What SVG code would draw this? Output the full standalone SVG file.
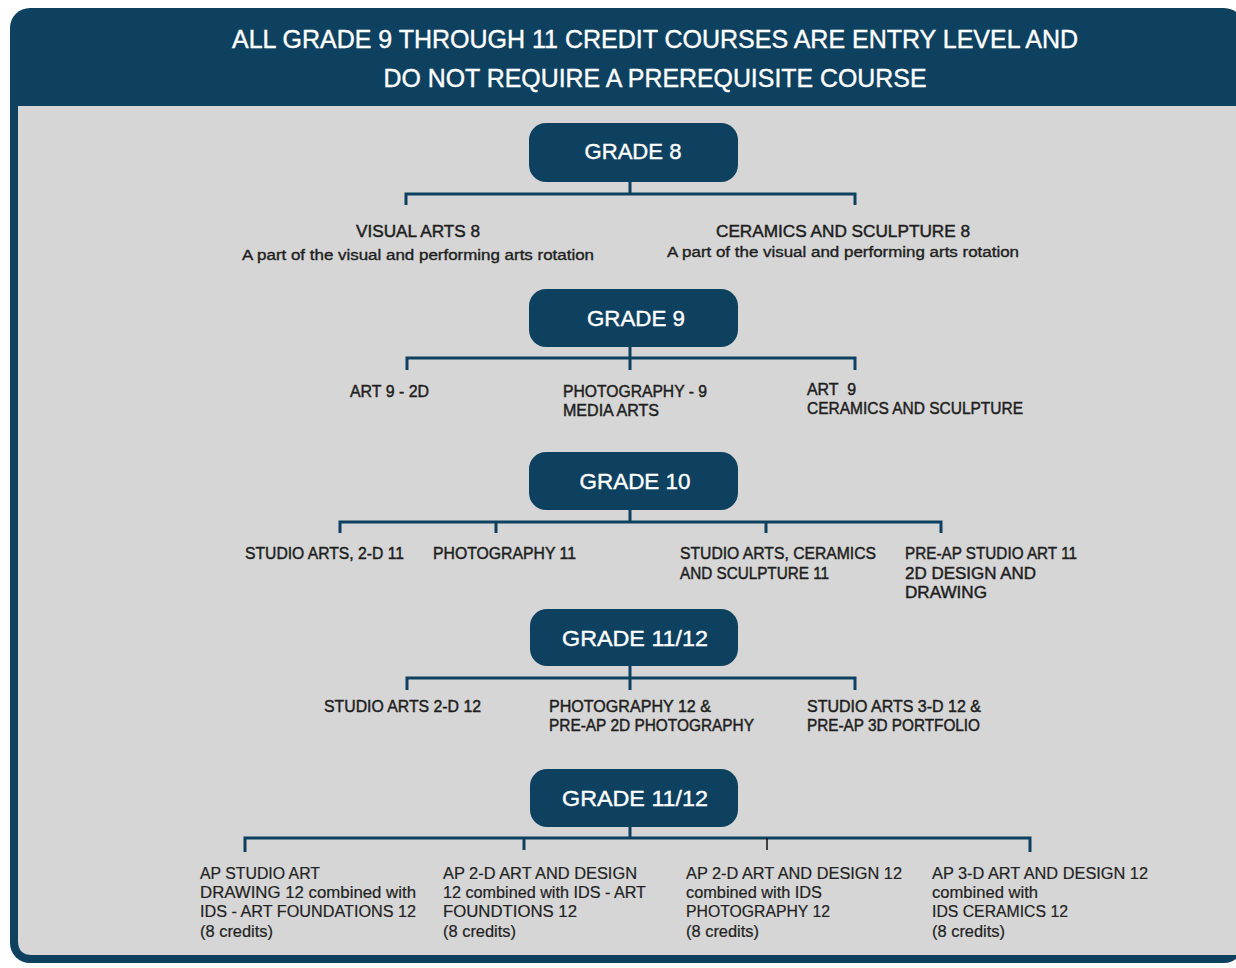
<svg xmlns="http://www.w3.org/2000/svg" width="1236" height="968" viewBox="0 0 1236 968">
<style>
.hdr{font-family:"Liberation Sans",Arial,sans-serif;font-size:25px;fill:#ffffff;stroke:#ffffff;stroke-width:0.4;text-anchor:middle}
.gb{fill:#0e4160}
.gt{font-family:"Liberation Sans",Arial,sans-serif;font-size:22px;fill:#ffffff;stroke:#ffffff;stroke-width:0.4;text-anchor:middle}
.lb{font-family:"Liberation Sans",Arial,sans-serif;font-size:16px;fill:#1e1e1e;stroke:#1e1e1e;stroke-width:0.45}
.lbc{font-family:"Liberation Sans",Arial,sans-serif;font-size:16px;fill:#1e1e1e;stroke:#1e1e1e;stroke-width:0.45;text-anchor:middle}
.sm{font-family:"Liberation Sans",Arial,sans-serif;font-size:14px;fill:#1e1e1e;stroke:#1e1e1e;stroke-width:0.35;text-anchor:middle}
.bt{font-family:"Liberation Sans",Arial,sans-serif;font-size:16px;fill:#222222;stroke:#222222;stroke-width:0.2}
.cn{fill:none;stroke:#0e4160;stroke-width:3}
</style>
<rect x="0" y="0" width="1236" height="968" fill="#ffffff"/>
<g id="frame">
<rect x="10" y="8" width="1234" height="955" rx="20" fill="#0e4160"/>
<path d="M18,106 H1244 V955 H32 Q18,955 18,941 Z" fill="#d6d6d6"/>
<text class="hdr" x="655" y="48" textLength="846" lengthAdjust="spacingAndGlyphs">ALL GRADE 9 THROUGH 11 CREDIT COURSES ARE ENTRY LEVEL AND</text>
<text class="hdr" x="655" y="87" textLength="543" lengthAdjust="spacingAndGlyphs">DO NOT REQUIRE A PREREQUISITE COURSE</text>
</g>
<g id="connectors">
<path class="cn" d="M630,182 V194 M406,205 V194 H855 V205"/>
<path class="cn" d="M630,347 V370 M407,370 V358 H855 V370"/>
<path class="cn" d="M630,510 V522 M340,533 V522 H941 V533 M496,522 V533 M766,522 V533"/>
<path class="cn" d="M630,666 V690 M407,690 V678 H855 V690"/>
<path class="cn" d="M630,827 V838 M245,852 V838 H1030 V852 M524,838 V850"/>
<path d="M767,838 V850" stroke="#111" stroke-width="1.5" fill="none"/>
</g>
<g id="grade8">
<rect class="gb" x="529" y="123" width="209" height="59" rx="17"/>
<text class="gt" x="633" y="159" textLength="97" lengthAdjust="spacingAndGlyphs">GRADE 8</text>
</g>
<g id="visualarts8">
<text class="lbc" x="418" y="237" textLength="124" lengthAdjust="spacingAndGlyphs">VISUAL ARTS 8</text>
<text class="sm" x="418" y="260" textLength="352" lengthAdjust="spacingAndGlyphs">A part of the visual and performing arts rotation</text>
</g>
<g id="ceramics8">
<text class="lbc" x="843" y="237" textLength="254" lengthAdjust="spacingAndGlyphs">CERAMICS AND SCULPTURE 8</text>
<text class="sm" x="843" y="257" textLength="352" lengthAdjust="spacingAndGlyphs">A part of the visual and performing arts rotation</text>
</g>
<g id="grade9">
<rect class="gb" x="529" y="289" width="209" height="58" rx="17"/>
<text class="gt" x="636" y="326" textLength="98" lengthAdjust="spacingAndGlyphs">GRADE 9</text>
</g>
<g id="art9-2d"><text class="lb" x="350" y="397" textLength="79" lengthAdjust="spacingAndGlyphs">ART 9 - 2D</text></g>
<g id="photo9">
<text class="lb" x="563" y="397" textLength="144" lengthAdjust="spacingAndGlyphs">PHOTOGRAPHY - 9</text>
<text class="lb" x="563" y="416" textLength="96" lengthAdjust="spacingAndGlyphs">MEDIA ARTS</text>
</g>
<g id="art9-ceramics">
<text class="lb" x="807" y="395" textLength="49" lengthAdjust="spacingAndGlyphs" xml:space="preserve">ART  9</text>
<text class="lb" x="807" y="414" textLength="216" lengthAdjust="spacingAndGlyphs">CERAMICS AND SCULPTURE</text>
</g>
<g id="grade10">
<rect class="gb" x="529" y="452" width="209" height="58" rx="17"/>
<text class="gt" x="635" y="489" textLength="111" lengthAdjust="spacingAndGlyphs">GRADE 10</text>
</g>
<g id="studio2d11"><text class="lb" x="245" y="559" textLength="159" lengthAdjust="spacingAndGlyphs">STUDIO ARTS, 2-D 11</text></g>
<g id="photo11"><text class="lb" x="433" y="559" textLength="143" lengthAdjust="spacingAndGlyphs">PHOTOGRAPHY 11</text></g>
<g id="studioceramics11">
<text class="lb" x="680" y="559" textLength="196" lengthAdjust="spacingAndGlyphs">STUDIO ARTS, CERAMICS</text>
<text class="lb" x="680" y="579" textLength="149" lengthAdjust="spacingAndGlyphs">AND SCULPTURE 11</text>
</g>
<g id="preap11">
<text class="lb" x="905" y="559" textLength="172" lengthAdjust="spacingAndGlyphs">PRE-AP STUDIO ART 11</text>
<text class="lb" x="905" y="579" textLength="131" lengthAdjust="spacingAndGlyphs">2D DESIGN AND</text>
<text class="lb" x="905" y="598" textLength="82" lengthAdjust="spacingAndGlyphs">DRAWING</text>
</g>
<g id="grade1112a">
<rect class="gb" x="530" y="609" width="208" height="57" rx="17"/>
<text class="gt" x="635" y="646" textLength="146" lengthAdjust="spacingAndGlyphs">GRADE 11/12</text>
</g>
<g id="studio2d12"><text class="lb" x="324" y="712" textLength="157" lengthAdjust="spacingAndGlyphs">STUDIO ARTS 2-D 12</text></g>
<g id="photo12">
<text class="lb" x="549" y="712" textLength="162" lengthAdjust="spacingAndGlyphs">PHOTOGRAPHY 12 &amp;</text>
<text class="lb" x="549" y="731" textLength="205" lengthAdjust="spacingAndGlyphs">PRE-AP 2D PHOTOGRAPHY</text>
</g>
<g id="studio3d12">
<text class="lb" x="807" y="712" textLength="174" lengthAdjust="spacingAndGlyphs">STUDIO ARTS 3-D 12 &amp;</text>
<text class="lb" x="807" y="731" textLength="173" lengthAdjust="spacingAndGlyphs">PRE-AP 3D PORTFOLIO</text>
</g>
<g id="grade1112b">
<rect class="gb" x="530" y="769" width="208" height="58" rx="17"/>
<text class="gt" x="635" y="806" textLength="146" lengthAdjust="spacingAndGlyphs">GRADE 11/12</text>
</g>
<g id="apdrawing">
<text class="bt" x="200" y="879" textLength="120" lengthAdjust="spacingAndGlyphs">AP STUDIO ART</text>
<text class="bt" x="200" y="898" textLength="216" lengthAdjust="spacingAndGlyphs">DRAWING 12 combined with</text>
<text class="bt" x="200" y="917" textLength="216" lengthAdjust="spacingAndGlyphs">IDS - ART FOUNDATIONS 12</text>
<text class="bt" x="200" y="937" textLength="73" lengthAdjust="spacingAndGlyphs">(8 credits)</text>
</g>
<g id="ap2dfound">
<text class="bt" x="443" y="879" textLength="194" lengthAdjust="spacingAndGlyphs">AP 2-D ART AND DESIGN</text>
<text class="bt" x="443" y="898" textLength="203" lengthAdjust="spacingAndGlyphs">12 combined with IDS - ART</text>
<text class="bt" x="443" y="917" textLength="134" lengthAdjust="spacingAndGlyphs">FOUNDTIONS 12</text>
<text class="bt" x="443" y="937" textLength="73" lengthAdjust="spacingAndGlyphs">(8 credits)</text>
</g>
<g id="ap2dphoto">
<text class="bt" x="686" y="879" textLength="216" lengthAdjust="spacingAndGlyphs">AP 2-D ART AND DESIGN 12</text>
<text class="bt" x="686" y="898" textLength="136" lengthAdjust="spacingAndGlyphs">combined with IDS</text>
<text class="bt" x="686" y="917" textLength="144" lengthAdjust="spacingAndGlyphs">PHOTOGRAPHY 12</text>
<text class="bt" x="686" y="937" textLength="73" lengthAdjust="spacingAndGlyphs">(8 credits)</text>
</g>
<g id="ap3dceramics">
<text class="bt" x="932" y="879" textLength="216" lengthAdjust="spacingAndGlyphs">AP 3-D ART AND DESIGN 12</text>
<text class="bt" x="932" y="898" textLength="106" lengthAdjust="spacingAndGlyphs">combined with</text>
<text class="bt" x="932" y="917" textLength="136" lengthAdjust="spacingAndGlyphs">IDS CERAMICS 12</text>
<text class="bt" x="932" y="937" textLength="73" lengthAdjust="spacingAndGlyphs">(8 credits)</text>
</g>
</svg>
